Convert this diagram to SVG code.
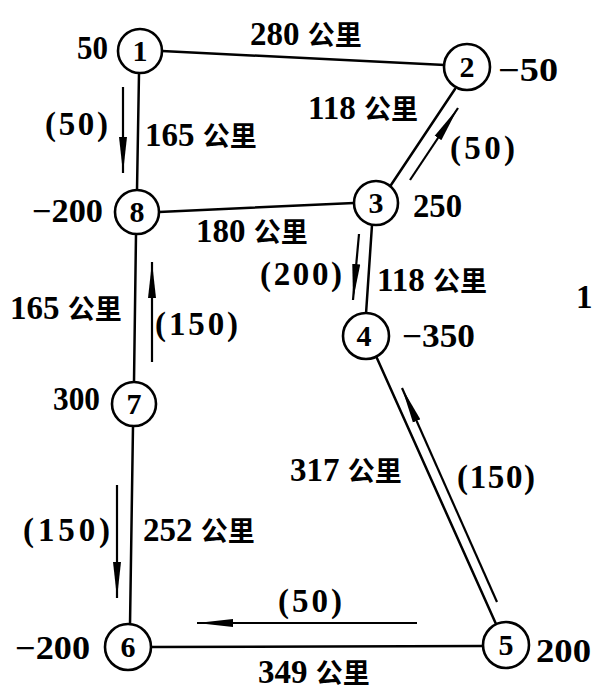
<svg xmlns="http://www.w3.org/2000/svg" width="593" height="690" viewBox="0 0 593 690">
<style>
.edge{stroke:#000;stroke-width:2.5;fill:none;stroke-linecap:round}
.flow{stroke:#000;stroke-width:2.2;fill:none;marker-end:url(#ah)}
.node circle{fill:#fff;stroke:#000;stroke-width:2.6}
.num{font-family:"Liberation Serif","Noto Sans CJK SC",serif;font-weight:bold;font-size:30px;text-anchor:middle}
.lbl{font-family:"Liberation Serif","Noto Sans CJK SC",serif;font-weight:bold;font-size:33px}
.cjk{font-family:"Noto Sans CJK SC",sans-serif;font-weight:bold;font-size:27px}
</style>
<defs>
<marker id="ah" viewBox="0 0 36 9" markerWidth="36" markerHeight="9" refX="36" refY="4.5" orient="auto" markerUnits="userSpaceOnUse">
<path d="M0,0.5 L36,4.5 L0,8.5 Z" fill="#000"/>
</marker>
</defs>
<rect width="593" height="690" fill="#fff"/>
<g id="connectors">
<line class="edge" x1="162" y1="51" x2="445" y2="65"/>
<line class="edge" x1="139" y1="73" x2="137" y2="190"/>
<line class="edge" x1="159" y1="212" x2="354" y2="203"/>
<line class="edge" x1="391" y1="185" x2="455" y2="89"/>
<line class="edge" x1="372" y1="225" x2="366" y2="314"/>
<line class="edge" x1="136" y1="234" x2="134" y2="382"/>
<line class="edge" x1="133" y1="426" x2="130" y2="625"/>
<line class="edge" x1="150" y1="647" x2="483" y2="646"/>
<line class="edge" x1="376" y1="356" x2="496" y2="624"/>
<line class="flow" x1="123" y1="87" x2="123" y2="173"/>
<line class="flow" x1="152" y1="362" x2="152" y2="262"/>
<line class="flow" x1="117" y1="485" x2="117" y2="598"/>
<line class="flow" x1="417" y1="623" x2="197" y2="623"/>
<line class="flow" x1="497" y1="602" x2="402" y2="388"/>
<line class="flow" x1="359" y1="234" x2="353" y2="300"/>
<line class="flow" x1="410" y1="180" x2="458" y2="108"/>
</g>
<g id="n1" class="node"><circle cx="140" cy="51" r="22"/><text class="num" x="140" y="61">1</text></g>
<g id="n2" class="node"><circle cx="467" cy="67" r="23"/><text class="num" x="467" y="77">2</text></g>
<g id="n3" class="node"><circle cx="376" cy="203" r="22"/><text class="num" x="376" y="213">3</text></g>
<g id="n8" class="node"><circle cx="137" cy="212" r="22"/><text class="num" x="137" y="222">8</text></g>
<g id="n4" class="node"><circle cx="366" cy="336" r="23"/><text class="num" x="364" y="346">4</text></g>
<g id="n7" class="node"><circle cx="134" cy="404" r="22"/><text class="num" x="134" y="414">7</text></g>
<g id="n6" class="node"><circle cx="128" cy="647" r="23"/><text class="num" x="128" y="657">6</text></g>
<g id="n5" class="node"><circle cx="506" cy="645" r="23"/><text class="num" x="506" y="655">5</text></g>
<g id="labels">
<text class="lbl" x="77" y="59" textLength="31" lengthAdjust="spacingAndGlyphs">50</text>
<text class="lbl" x="250" y="45">280 <tspan class="cjk">公里</tspan></text>
<text class="lbl" x="498" y="81" textLength="60" lengthAdjust="spacingAndGlyphs">−50</text>
<text class="lbl" x="308" y="119">118 <tspan class="cjk">公里</tspan></text>
<text class="lbl" x="450" y="159" textLength="65" lengthAdjust="spacing">(50)</text>
<text class="lbl" x="413" y="217" textLength="49" lengthAdjust="spacingAndGlyphs">250</text>
<text class="lbl" x="45" y="135" textLength="63" lengthAdjust="spacing">(50)</text>
<text class="lbl" x="145" y="146">165 <tspan class="cjk">公里</tspan></text>
<text class="lbl" x="32" y="222" textLength="71" lengthAdjust="spacingAndGlyphs">−200</text>
<text class="lbl" x="196" y="242">180 <tspan class="cjk">公里</tspan></text>
<text class="lbl" x="260" y="285" textLength="82" lengthAdjust="spacing">(200)</text>
<text class="lbl" x="377" y="291">118 <tspan class="cjk">公里</tspan></text>
<text class="lbl" x="402" y="347" textLength="73" lengthAdjust="spacingAndGlyphs">−350</text>
<text class="lbl" x="10" y="319">165 <tspan class="cjk">公里</tspan></text>
<text class="lbl" x="155" y="335" textLength="83" lengthAdjust="spacing">(150)</text>
<text class="lbl" x="53" y="410" textLength="47" lengthAdjust="spacingAndGlyphs">300</text>
<text class="lbl" x="290" y="481">317 <tspan class="cjk">公里</tspan></text>
<text class="lbl" x="457" y="488" textLength="78" lengthAdjust="spacing">(150)</text>
<text class="lbl" x="23" y="541" textLength="87" lengthAdjust="spacing">(150)</text>
<text class="lbl" x="143" y="541">252 <tspan class="cjk">公里</tspan></text>
<text class="lbl" x="278" y="612" textLength="64" lengthAdjust="spacing">(50)</text>
<text class="lbl" x="15" y="659" textLength="75" lengthAdjust="spacingAndGlyphs">−200</text>
<text class="lbl" x="258" y="683">349 <tspan class="cjk">公里</tspan></text>
<text class="lbl" x="536" y="662" textLength="55" lengthAdjust="spacingAndGlyphs">200</text>
<text class="lbl" x="576" y="308" font-size="20">1</text>
</g>
</svg>
